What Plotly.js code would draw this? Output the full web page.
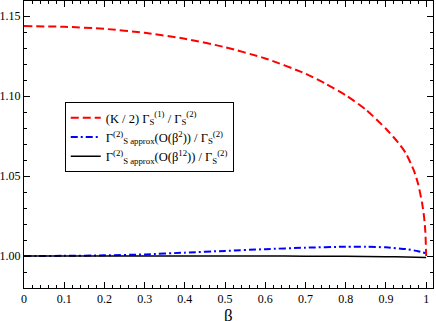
<!DOCTYPE html>
<html>
<head>
<meta charset="utf-8">
<script src="https://cdn.plot.ly/plotly-3.0.1.min.js"></script>
<style>
  html, body { margin: 0; padding: 0; background: #ffffff; }
  #plot { width: 436px; height: 321px; }
</style>
</head>
<body>
<div id="plot"></div>
<script>
// Values
const betaRed = [0, 0.1, 0.2, 0.3, 0.4, 0.5, 0.6, 0.7, 0.75, 0.8, 0.85, 0.9, 0.93, 0.95, 0.97, 0.98, 0.99, 0.995, 0.998, 1.0];
const ratioRed = [1.1437, 1.1433, 1.1420, 1.1395, 1.1358, 1.1305, 1.1235, 1.1140, 1.1077, 1.1005, 1.0915, 1.0795, 1.0710, 1.0640, 1.0530, 1.0450, 1.0330, 1.0240, 1.0150, 1.0000];

const betaBlue = [0, 0.1, 0.2, 0.3, 0.4, 0.5, 0.6, 0.7, 0.8, 0.85, 0.9, 0.95, 0.98, 1.0];
const ratioBlue = [1.0000, 1.0001, 1.0004, 1.0010, 1.0021, 1.0032, 1.0043, 1.0052, 1.0058, 1.0058, 1.0054, 1.0043, 1.0030, 1.0017];

const betaBlack = [0, 0.2, 0.4, 0.6, 0.7, 0.8, 0.9, 0.95, 1.0];
const ratioBlack = [1.0000, 1.0000, 1.0000, 1.0000, 0.9999, 0.9998, 0.9996, 0.9994, 0.9991];

const seriesNames = [
  "(K / 2) Γ<sub>S</sub><sup>(1)</sup> / Γ<sub>S</sub><sup>(2)</sup>",
  "Γ<sup>(2)</sup><sub>S approx</sub>(O(β<sup>2</sup>)) / Γ<sub>S</sub><sup>(2)</sup>",
  "Γ<sup>(2)</sup><sub>S approx</sub>(O(β<sup>12</sup>)) / Γ<sub>S</sub><sup>(2)</sup>"
];

const xTitle = "β";

const serif = "'Liberation Serif', 'Times New Roman', serif";

const traces = [
  {
    x: betaRed, y: ratioRed, name: seriesNames[0], mode: "lines",
    line: { color: "#ff0000", width: 2, dash: "8px,4px", shape: "spline", smoothing: 0.6 }
  },
  {
    x: betaBlue, y: ratioBlue, name: seriesNames[1], mode: "lines",
    line: { color: "#0000ff", width: 2, dash: "7px,3px,2px,3px", shape: "spline", smoothing: 0.6 }
  },
  {
    x: betaBlack, y: ratioBlack, name: seriesNames[2], mode: "lines",
    line: { color: "#000000", width: 1.5, shape: "spline", smoothing: 0.6 }
  }
];

const axisCommon = {
  showgrid: false,
  zeroline: false,
  showline: true,
  linecolor: "#000000",
  linewidth: 1,
  mirror: "allticks",
  ticks: "inside",
  ticklen: 6,
  tickwidth: 1,
  tickcolor: "#000000",
  tickfont: { family: serif, size: 12, color: "#000000" }
};

const layout = {
  width: 436,
  height: 321,
  margin: { l: 24, r: 3, t: 1, b: 33 },
  paper_bgcolor: "#ffffff",
  plot_bgcolor: "#ffffff",
  font: { family: serif, color: "#000000" },
  xaxis: Object.assign({}, axisCommon, {
    range: [0, 1.017],
    tick0: 0,
    dtick: 0.1,
    minor: { dtick: 0.02, ticks: "inside", ticklen: 3, tickcolor: "#000000", showgrid: false }
  }),
  yaxis: Object.assign({}, axisCommon, {
    range: [0.98, 1.1594],
    tick0: 1.0,
    dtick: 0.05,
    tickformat: ".2f",
    minor: { dtick: 0.01, ticks: "inside", ticklen: 3, tickcolor: "#000000", showgrid: false }
  }),
  // axis title placed lower than Plotly's default spot, as in the reference
  annotations: [{
    text: xTitle,
    xref: "paper", yref: "paper",
    x: 0.5, y: -0.056,
    xanchor: "center", yanchor: "top",
    showarrow: false,
    font: { family: serif, size: 17, color: "#000000" }
  }],
  showlegend: true,
  legend: {
    x: 0.0996,
    y: 0.648,
    xanchor: "left",
    yanchor: "top",
    bgcolor: "#ffffff",
    bordercolor: "#000000",
    borderwidth: 1,
    itemwidth: 30,
    font: { family: serif, size: 12.5, color: "#000000" }
  }
};

Plotly.newPlot("plot", traces, layout, { displayModeBar: false, staticPlot: true });
</script>
</body>
</html>
